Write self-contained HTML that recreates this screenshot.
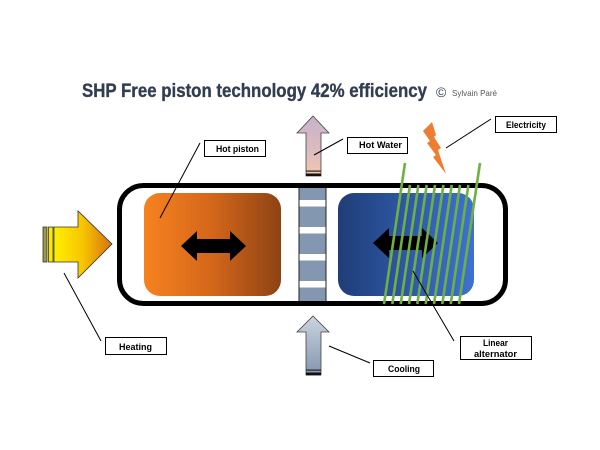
<!DOCTYPE html>
<html><head><meta charset="utf-8"><style>
html,body{margin:0;padding:0;background:#fff;}
svg{display:block;}
text{font-family:"Liberation Sans",sans-serif;}
</style></head><body>
<svg width="600" height="450" viewBox="0 0 600 450" xmlns="http://www.w3.org/2000/svg">
<defs>
<linearGradient id="gOr" x1="0" x2="1" y1="0" y2="0"><stop offset="0" stop-color="#F6821F"/><stop offset="0.5" stop-color="#D4661A"/><stop offset="1" stop-color="#8C4314"/></linearGradient>
<linearGradient id="gBl" x1="0" x2="1" y1="0" y2="0"><stop offset="0" stop-color="#1F3D77"/><stop offset="1" stop-color="#3D72D2"/></linearGradient>
<linearGradient id="gHeat" x1="0" x2="1" y1="0" y2="0"><stop offset="0" stop-color="#FFF000"/><stop offset="0.5" stop-color="#F8C400"/><stop offset="1" stop-color="#D4720E"/></linearGradient>
<linearGradient id="gHot" x1="0" x2="0" y1="0" y2="1"><stop offset="0" stop-color="#C7B3CC"/><stop offset="0.6" stop-color="#DCBCC0"/><stop offset="1" stop-color="#F4C7A9"/></linearGradient>
<linearGradient id="gCool" x1="0" x2="0" y1="0" y2="1"><stop offset="0" stop-color="#CBD4DF"/><stop offset="1" stop-color="#8396AF"/></linearGradient>
</defs>

<!-- Title -->
<text x="82" y="97" font-size="19" font-weight="bold" fill="#323E50" stroke="#323E50" stroke-width="0.35" textLength="345" lengthAdjust="spacingAndGlyphs">SHP Free piston technology 42% efficiency</text>
<text x="436" y="97" font-size="14" fill="#323E50">©</text>
<text x="452" y="96" font-size="8.5" fill="#555" textLength="45" lengthAdjust="spacingAndGlyphs">Sylvain Paré</text>

<!-- Regenerator column -->
<rect x="299" y="185" width="27" height="119" fill="#8497B0" stroke="#222" stroke-width="1"/>
<rect x="299.5" y="200" width="26" height="6.5" fill="#fff"/>
<rect x="299.5" y="227" width="26" height="6.5" fill="#fff"/>
<rect x="299.5" y="254" width="26" height="6.5" fill="#fff"/>
<rect x="299.5" y="281" width="26" height="6.5" fill="#fff"/>

<!-- Main cylinder -->
<rect x="119.5" y="185.5" width="386" height="118" rx="24" ry="24" fill="none" stroke="#000" stroke-width="5"/>

<!-- Pistons -->
<rect x="144" y="193" width="137" height="103" rx="16" ry="16" fill="url(#gOr)"/>
<rect x="338" y="193" width="136" height="103" rx="16" ry="16" fill="url(#gBl)"/>

<!-- Double arrows -->
<polygon points="181,246 197,231 197,239 230,239 230,231 246,246 230,261 230,253 197,253 197,261" fill="#000"/>
<polygon points="373,243 389,228 389,236 422,236 422,228 438,243 422,258 422,250 389,250 389,258" fill="#000"/>

<!-- Coil -->
<g stroke="#6FB043" stroke-width="2.6">
<line x1="405" y1="163" x2="384" y2="304"/>
<line x1="410.0" y1="185" x2="392.3" y2="304"/>
<line x1="418.4" y1="185" x2="400.7" y2="304"/>
<line x1="426.7" y1="185" x2="409.0" y2="304"/>
<line x1="435.0" y1="185" x2="417.3" y2="304"/>
<line x1="443.4" y1="185" x2="425.7" y2="304"/>
<line x1="451.7" y1="185" x2="434.0" y2="304"/>
<line x1="460.0" y1="185" x2="442.3" y2="304"/>
<line x1="468.4" y1="185" x2="450.7" y2="304"/>
<line x1="480" y1="163" x2="459" y2="304"/>
</g>

<!-- Heating arrow -->
<rect x="43" y="227" width="4" height="35" fill="#9C9A3A" stroke="#333" stroke-width="0.8"/>
<rect x="48.5" y="227" width="4.5" height="35" fill="#FFE800" stroke="#333" stroke-width="0.8"/>
<polygon points="54,227 78,227 78,211 112,244 78,278 78,262 54,262" fill="url(#gHeat)" stroke="#333" stroke-width="0.8"/>

<!-- Hot water arrow -->
<polygon points="313,116 329,133 321,133 321,176 306,176 306,133 297,133" fill="url(#gHot)" stroke="#444" stroke-width="0.8"/>
<rect x="306" y="170.5" width="15" height="1.2" fill="#222"/>
<rect x="306" y="173.5" width="15" height="2.5" fill="#111"/>

<!-- Cooling arrow -->
<polygon points="313,316 329,332 321,332 321,375 306,375 306,332 297,332" fill="url(#gCool)" stroke="#444" stroke-width="0.8"/>
<rect x="306" y="369.5" width="15" height="1.2" fill="#222"/>
<rect x="306" y="372.5" width="15" height="2.8" fill="#111"/>

<!-- Lightning bolt -->
<polygon points="423,131 432,122 436,135 434,137 441,148 438,150 446,174 433,157 436,155 427,143 430,141" fill="#ED7D31"/>

<!-- Leader lines -->
<g stroke="#000" stroke-width="1">
<line x1="200" y1="143" x2="160" y2="218"/>
<line x1="343" y1="139" x2="314" y2="155"/>
<line x1="491" y1="119" x2="446" y2="148"/>
<line x1="64" y1="273" x2="101" y2="341"/>
<line x1="329" y1="346" x2="370" y2="363"/>
<line x1="413" y1="271" x2="454" y2="341"/>
</g>

<!-- Labels -->
<g fill="#fff" stroke="#000" stroke-width="1">
<rect x="204.5" y="140.5" width="61" height="16"/>
<rect x="347.5" y="137.5" width="60" height="16"/>
<rect x="495.5" y="116.5" width="61" height="16"/>
<rect x="105.5" y="337.5" width="61" height="17"/>
<rect x="373.5" y="360.5" width="60" height="16"/>
<rect x="460.5" y="336.5" width="71" height="23"/>
</g>
<g font-size="9" font-weight="bold" fill="#000">
<text x="216" y="152" textLength="43" lengthAdjust="spacingAndGlyphs">Hot piston</text>
<text x="359" y="148" textLength="43" lengthAdjust="spacingAndGlyphs">Hot Water</text>
<text x="506" y="128" textLength="40" lengthAdjust="spacingAndGlyphs">Electricity</text>
<text x="119" y="350" textLength="33" lengthAdjust="spacingAndGlyphs">Heating</text>
<text x="388" y="372" textLength="32" lengthAdjust="spacingAndGlyphs">Cooling</text>
<text x="483" y="346" textLength="25" lengthAdjust="spacingAndGlyphs">Linear</text>
<text x="474" y="357" textLength="43" lengthAdjust="spacingAndGlyphs">alternator</text>
</g>
</svg>
</body></html>
